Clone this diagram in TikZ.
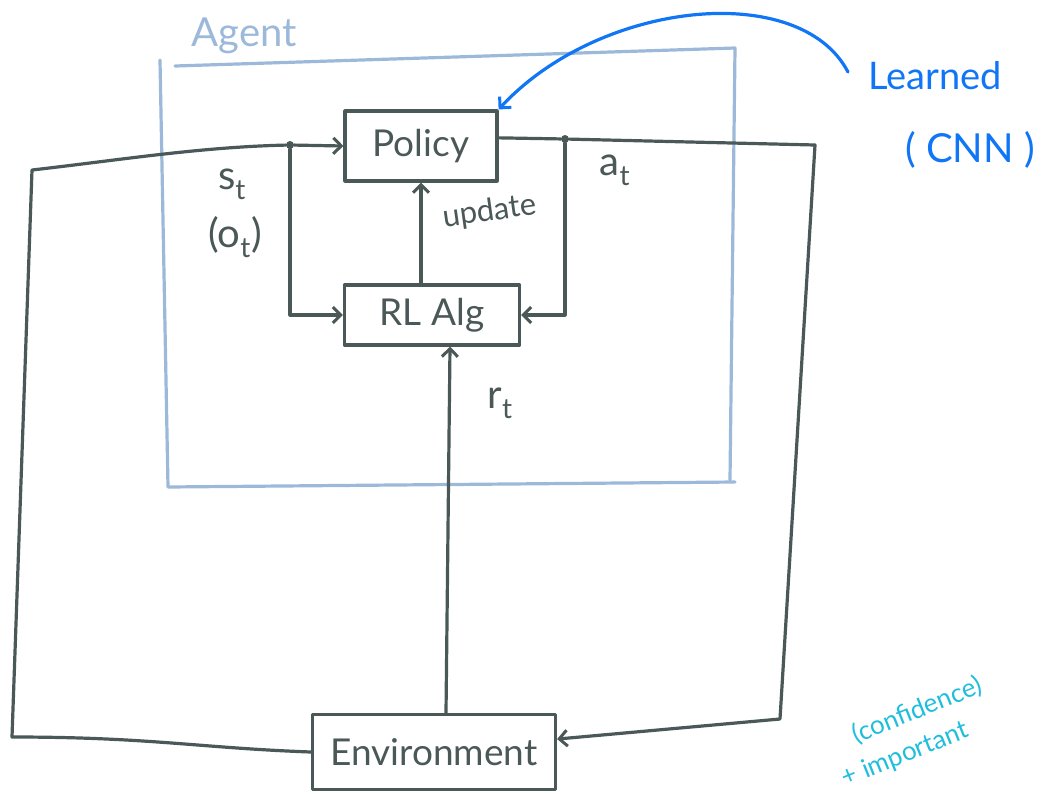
\documentclass[tikz,border=0pt]{standalone}
\usepackage{fontspec}
\setmainfont{Lato}
\usetikzlibrary{arrows.meta,calc}
\definecolor{ink}{RGB}{74,88,87}
\definecolor{agentblue}{RGB}{156,185,218}
\definecolor{learnblue}{RGB}{16,118,245}
\definecolor{notecyan}{RGB}{32,190,220}
\begin{document}
\begin{tikzpicture}[x=1pt,y=-1pt,
  pen/.style={line width=3.2pt, line cap=round, line join=round},
  wire/.style={pen, draw=ink},
  tip/.style={-{Straight Barb[length=8pt,width=16pt,line width=3pt]}},
  block/.style={pen, draw=ink, text=ink, rectangle, inner sep=0pt,
    font=\fontsize{37}{40}\selectfont},
  lbl/.style={text=ink, inner sep=0pt, font=\fontsize{40}{44}\selectfont},
  dot/.style={circle, fill=ink, inner sep=0pt, minimum size=8pt}]
\useasboundingbox (0,0) rectangle (1047,793);

% agent frame
\draw[pen, agentblue] (175,66) -- (735,48) -- (730,480);
\draw[pen, agentblue] (160,60) -- (168,487) -- (735,482);
\node[text=agentblue, inner sep=0pt, font=\fontsize{40}{44}\selectfont] (agent) at (244,36) {Agent};

% blocks
\node[block, minimum width=152pt, minimum height=70pt] (pol) at (421,146) {Policy};
\node[block, minimum width=175pt, minimum height=60pt] (rl) at (432,315) {RL Alg};
\node[block, minimum width=243pt, minimum height=75pt] (env) at (434,752) {Environment};

% branch points
\node[dot] (sdot) at (290,145) {};
\node[dot] (adot) at (565,139) {};
\coordinate (ll) at (12,737);
\coordinate (ul) at (32,170);
\coordinate (ur) at (815,145);
\coordinate (lr) at (780,719);

% observation loop
\draw[wire, tip] (env.west) .. controls (200,748) and (150,737) .. (ll)
  -- (ul) .. controls (120,160) and (200,147) .. (sdot) -- (pol.west);
\draw[wire, tip] (sdot) -- (sdot |- rl.west) -- (rl.west);

% action loop
\draw[wire] (pol.6) -- (adot);
\draw[wire, tip] (adot) -- (ur) -- (lr) -- (env.6);
\draw[wire, tip] (adot) -- (adot |- rl.east) -- (rl.east);

% update and reward
\draw[wire, tip] (pol.south |- rl.north) -- (pol.south);
\draw[wire, tip] ($(env.north)+(12,0)$) -- ($(rl.south)+(18,0)$);

% labels
\node[lbl] (st) at (232,184) {s\textsubscript{t}};
\node[lbl] (ot) at (235,237) {(o\textsubscript{t})};
\node[lbl] (at) at (615,170) {a\textsubscript{t}};
\node[lbl] (rt) at (500,403) {r\textsubscript{t}};
\node[lbl, rotate=8, font=\fontsize{31}{34}\selectfont] (upd) at (490,212) {update};

% annotations
\node[text=learnblue, inner sep=0pt, font=\fontsize{38}{42}\selectfont] (learned) at (935,76) {Learned};
\node[text=learnblue, inner sep=0pt, font=\fontsize{40}{44}\selectfont] (cnn) at (970,150) {( CNN )};
\coordinate (lstart) at (848,72);
\draw[pen, learnblue, tip] (lstart) .. controls (800,-20) and (600,0) .. (pol.north east);

\node[text=notecyan, inner sep=0pt, rotate=22, align=left,
  font=\fontsize{26}{36}\selectfont] (note) at (912,732)
  {\hspace*{26pt}(confidence)\\+ important};
\end{tikzpicture}
\end{document}
